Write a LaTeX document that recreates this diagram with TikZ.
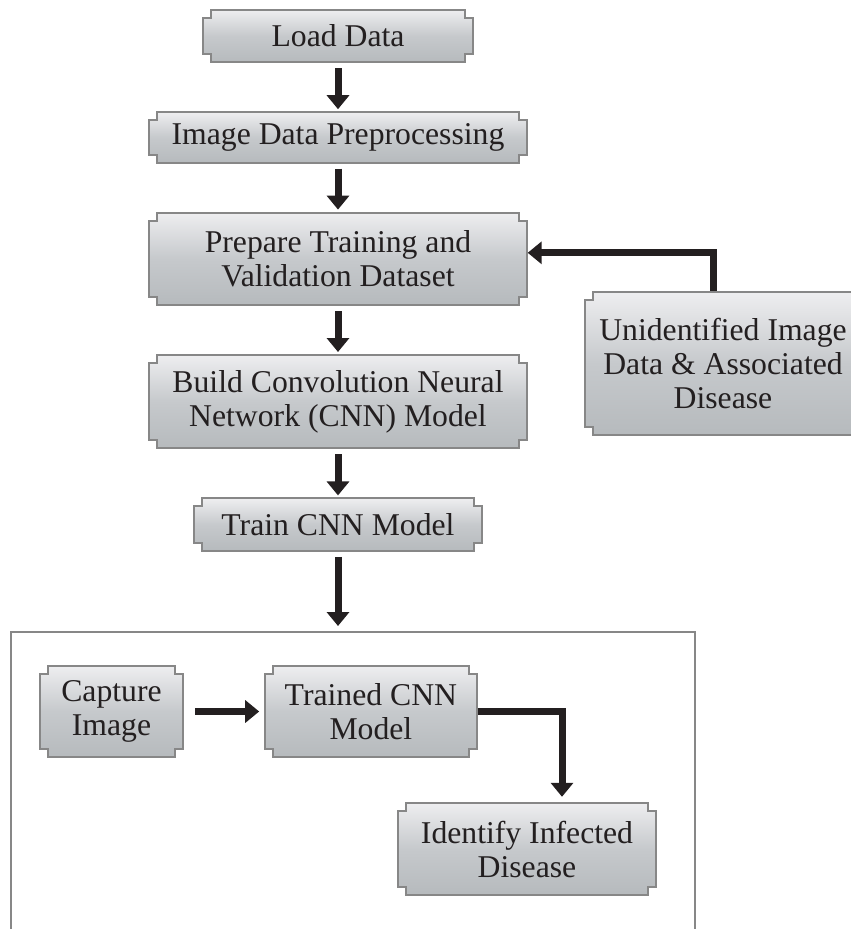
\documentclass[tikz,border=0pt]{standalone}
\usepackage{fontspec}
\setmainfont{Liberation Serif}
\usetikzlibrary{positioning, arrows.meta, backgrounds}

\definecolor{plaqtop}{RGB}{238,238,240}
\definecolor{plaqmid}{RGB}{198,201,204}
\definecolor{plaqbot}{RGB}{182,186,189}
\definecolor{plaqedge}{RGB}{135,135,135}
\definecolor{inkblack}{RGB}{35,31,32}

\tikzset{
  plaque/.style={align=center, inner sep=0pt, text=inkblack, font=\fontsize{31.7}{34}\selectfont},
  plaqfill/.style={draw=plaqedge, line width=2pt, top color=plaqtop, bottom color=plaqbot, middle color=plaqmid},
  framebox/.style={draw=plaqedge, line width=2pt},
  arrow/.style={draw=inkblack, line width=7pt, -{Triangle[length=14pt,width=22pt]}, shorten <=6pt, shorten >=3pt},
}

% notched outline drawn behind a named node
\newcommand{\plaqueshape}[1]{%
  \path[plaqfill] ([xshift=8pt]#1.north west) -- ([xshift=-8pt]#1.north east) -- ++(0,-8pt) -- ++(8pt,0)
    -- ([yshift=8pt]#1.south east) -- ++(-8pt,0) -- ++(0,-8pt)
    -- ([xshift=8pt]#1.south west) -- ++(0,8pt) -- ++(-8pt,0)
    -- ([yshift=-8pt]#1.north west) -- ++(8pt,0) -- cycle;}

\begin{document}
\begin{tikzpicture}[x=1pt, y=-1pt, node distance=50pt]
\useasboundingbox (0,0) rectangle (851,929);

%glavni stupac
\node[plaque, minimum width=270pt, minimum height=52pt] (load) at (338,36) {Load Data};
\node[plaque, minimum width=378pt, minimum height=50pt] (imgprep) [below=of load] {Image Data Preprocessing};
\node[plaque, minimum width=377pt, minimum height=92pt] (prep) [below=of imgprep] {Prepare Training and\\Validation Dataset};
\node[plaque, minimum width=378pt, minimum height=93pt] (build) [below=of prep] {Build Convolution Neural\\Network (CNN) Model};
\node[plaque, minimum width=287pt, minimum height=52pt] (train) [below=of build] {Train CNN Model};

%bocni ulaz
\node[plaque, minimum width=276pt, minimum height=143pt] (unid) at (723,363.5) {Unidentified Image\\Data \& Associated\\Disease};

%okvir s primjenom modela
\node[framebox, minimum width=684pt, minimum height=336pt] (frame) at (353,800) {};
\node[plaque, minimum width=143pt, minimum height=91pt] (capture) at (111.5,711.5) {Capture\\Image};
\node[plaque, minimum width=211pt, minimum height=91pt] (trained) [right=82pt of capture] {Trained CNN\\Model};
\node[plaque, minimum width=258pt, minimum height=92pt] (identify) at (527,849) {Identify Infected\\Disease};

%pozadina kutija
\begin{scope}[on background layer]
\foreach \n in {load, imgprep, prep, build, train, unid, capture, trained, identify}
  \plaqueshape{\n};
\end{scope}

%strelice
\draw[arrow] (load) -- (imgprep);
\draw[arrow] (imgprep) -- (prep);
\draw[arrow] (prep) -- (build);
\draw[arrow] (build) -- (train);
\draw[arrow, shorten >=5pt] (train) -- (train.south |- frame.north);
\draw[arrow, shorten <=1pt, shorten >=1pt] ([xshift=-10pt]unid.north) |- ([yshift=6pt]prep.east);
\draw[arrow, shorten <=12pt, shorten >=6pt] (capture) -- (trained);
\draw[arrow, shorten <=1pt, shorten >=6pt] (trained.east) -| ([xshift=35pt]identify.north);

\end{tikzpicture}
\end{document}
